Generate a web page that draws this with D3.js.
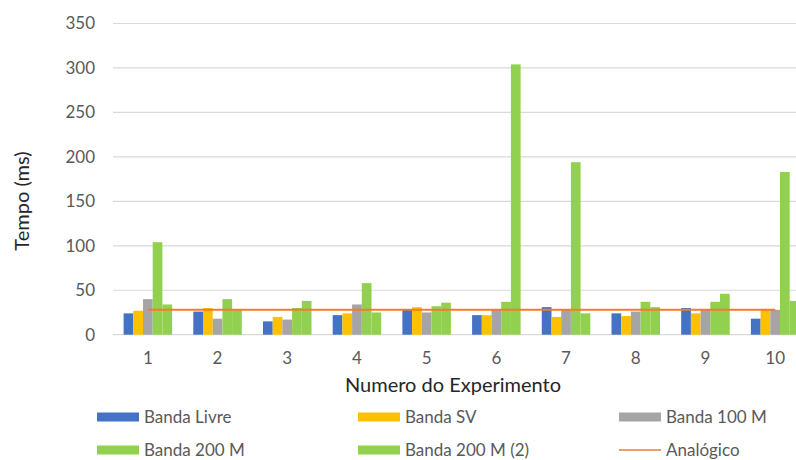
<!DOCTYPE html>
<html>
<head>
<meta charset="utf-8">
<script src="https://cdn.jsdelivr.net/npm/d3@7"></script>
<style>
  html, body { margin: 0; padding: 0; background: #fff; }
  svg { display: block; font-family: Lato, "Open Sans", sans-serif; }
</style>
</head>
<body>
<svg id="chart" width="796" height="460"></svg>
<script>
// Experiment numbers on the x axis
const categories = ["1", "2", "3", "4", "5", "6", "7", "8", "9", "10"];

// Response time (ms) per experiment, one array per configuration
const bandaLivre  = [24, 26, 15, 22, 28, 22, 31, 24, 30, 18];
const bandaSV     = [27, 30, 20, 24, 31, 22, 20, 21, 24, 28];
const banda100M   = [40, 18, 17, 34, 25, 28, 28, 26, 28, 28];
const banda200M   = [104, 40, 30, 58, 32, 37, 194, 37, 37, 183];
const banda200M2  = [34, 28, 38, 25, 36, 304, 24, 31, 46, 38];
const analogico   = [28, 28, 28, 28, 28, 28, 28, 28, 28, 28];

const yTicks = [0, 50, 100, 150, 200, 250, 300, 350];

const barSeries = [
  { name: "Banda Livre",     values: bandaLivre, color: "#4472C4" },
  { name: "Banda SV",        values: bandaSV,    color: "#FFC000" },
  { name: "Banda 100 M",     values: banda100M,  color: "#A5A5A5" },
  { name: "Banda 200 M",     values: banda200M,  color: "#92D050" },
  { name: "Banda 200 M (2)", values: banda200M2, color: "#92D050" }
];
const lineSeries = { name: "Analógico", values: analogico, color: "#ED7D31" };

const svg = d3.select("#chart");
const textColor = "#595959";

const x0 = d3.scaleBand()
  .domain(categories)
  .range([113, 810])
  .paddingInner(0.304)
  .paddingOuter(0.152);

const x1 = d3.scaleBand()
  .domain(barSeries.map(s => s.name))
  .range([0, x0.bandwidth()]);

const y = d3.scaleLinear().domain([0, 350]).range([334.7, 23.5]);

// Horizontal gridlines
svg.append("g")
  .selectAll("line")
  .data(yTicks)
  .join("line")
  .attr("x1", 113)
  .attr("x2", 810)
  .attr("y1", d => y(d))
  .attr("y2", d => y(d))
  .attr("stroke", "#D9D9D9")
  .attr("stroke-width", 1.2);

// Y axis labels
const yAxis = svg.append("g")
  .attr("transform", "translate(95,0)")
  .call(d3.axisLeft(y).tickValues(yTicks).tickSize(0).tickPadding(0));
yAxis.select(".domain").remove();
yAxis.selectAll("text")
  .attr("fill", textColor)
  .style("font-size", "17px")
  .style("font-family", "Lato, sans-serif");

// Bars
const groups = svg.append("g")
  .selectAll("g")
  .data(categories)
  .join("g")
  .attr("transform", d => `translate(${x0(d)},0)`);

groups.selectAll("rect")
  .data((c, i) => barSeries.map(s => ({ name: s.name, color: s.color, v: s.values[i] })))
  .join("rect")
  .attr("x", d => x1(d.name))
  .attr("width", x1.bandwidth())
  .attr("y", d => y(d.v))
  .attr("height", d => y(0) - y(d.v))
  .attr("fill", d => d.color);

// Analógico line
const line = d3.line()
  .x((d, i) => x0(categories[i]) + x0.bandwidth() / 2)
  .y(d => y(d));
svg.append("path")
  .datum(lineSeries.values)
  .attr("d", line)
  .attr("fill", "none")
  .attr("stroke", lineSeries.color)
  .attr("stroke-width", 2);

// X axis labels
const xAxis = svg.append("g")
  .attr("transform", `translate(0,${y(0) + 17})`)
  .call(d3.axisBottom(x0).tickSize(0).tickPadding(0));
xAxis.select(".domain").remove();
xAxis.selectAll("text")
  .attr("fill", textColor)
  .style("font-size", "17px")
  .style("font-family", "Lato, sans-serif");

// Axis titles
svg.append("text")
  .attr("x", 453)
  .attr("y", 385)
  .attr("dy", "0.35em")
  .attr("text-anchor", "middle")
  .attr("fill", "#262626")
  .style("font-size", "20px")
  .text("Numero do Experimento");

svg.append("text")
  .attr("transform", "translate(22,201) rotate(-90)")
  .attr("dy", "0.35em")
  .attr("text-anchor", "middle")
  .attr("fill", "#262626")
  .style("font-size", "20px")
  .text("Tempo (ms)");

// Legend
const legendItems = [
  ...barSeries.map(s => ({ name: s.name, color: s.color, type: "bar" })),
  { name: lineSeries.name, color: lineSeries.color, type: "line" }
];
const colX = [97, 358, 619];
const rowY = [417, 450];

const legend = svg.append("g")
  .selectAll("g")
  .data(legendItems)
  .join("g")
  .attr("transform", (d, i) => `translate(${colX[i % 3]},${rowY[Math.floor(i / 3)]})`);

legend.each(function(d) {
  const g = d3.select(this);
  if (d.type === "bar") {
    g.append("rect").attr("x", 0).attr("y", -4.5).attr("width", 42).attr("height", 9).attr("fill", d.color);
  } else {
    g.append("line").attr("x1", 0).attr("x2", 42).attr("y1", 0).attr("y2", 0)
      .attr("stroke", d.color).attr("stroke-width", 1.5);
  }
  g.append("text")
    .attr("x", 47)
    .attr("y", 0)
    .attr("dy", "0.35em")
    .attr("fill", textColor)
    .style("font-size", "17px")
    .text(d.name);
});
</script>
</body>
</html>
